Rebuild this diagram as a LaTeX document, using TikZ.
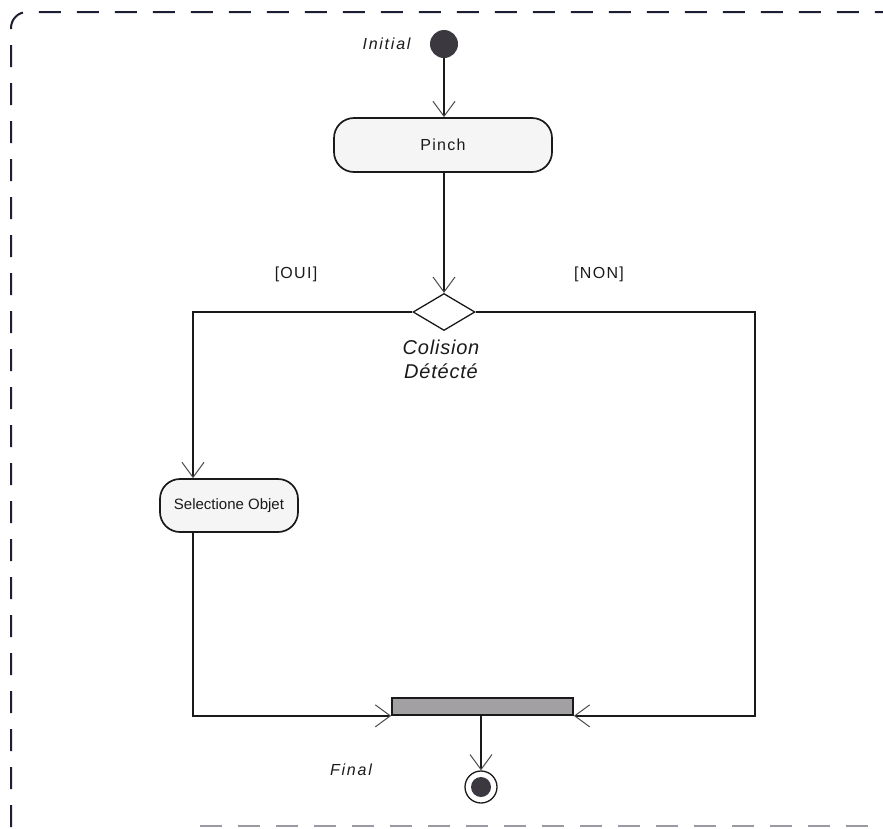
\documentclass[tikz,border=0pt]{standalone}
\usepackage{fontspec}
\setmainfont{Liberation Sans}
\usetikzlibrary{arrows.meta,shapes.geometric}

\definecolor{inkline}{HTML}{1A1A1A}
\definecolor{barbcol}{HTML}{4A4A4A}
\definecolor{dotfill}{HTML}{3B3840}
\definecolor{boxfill}{HTML}{F5F5F5}
\definecolor{barfill}{HTML}{A3A0A3}
\definecolor{framecol}{HTML}{1C1F33}

\tikzset{
  flow/.style={draw=inkline, line width=1.3pt,
    -{Straight Barb[length=15pt,width=22pt,line width=1pt,color=barbcol]}},
  action/.style={draw=inkline, line width=1.7pt, fill=boxfill,
    rounded corners=20pt, inner sep=0pt},
  decision/.style={diamond, draw=inkline, line width=1.3pt, fill=white,
    minimum width=62pt, minimum height=37pt, inner sep=0pt},
  startdot/.style={circle, fill=dotfill, minimum size=28pt, inner sep=0pt},
  enddot/.style={circle, draw=inkline, line width=1.3pt, fill=white,
    minimum size=32pt, inner sep=0pt,
    path picture={\fill[dotfill] (path picture bounding box.center) circle (10pt);}},
  syncbar/.style={draw=inkline, line width=1.7pt, fill=barfill, inner sep=0pt},
  caption/.style={text=inkline, font=\fontsize{16}{19}\selectfont\itshape\addfontfeatures{LetterSpace=11}},
  guard/.style={text=inkline, font=\fontsize{16}{19}\selectfont\addfontfeatures{LetterSpace=8}},
  frame/.style={draw=framecol, line width=2pt, dash pattern=on 22pt off 16pt, rounded corners=16pt},
}

\begin{document}
\begin{tikzpicture}[x=1pt, y=-1pt]
  \useasboundingbox (0,0) rectangle (883,828);

  % enclosing dashed frame
  \draw[frame] (11,827) -- (11,12) -- (905,12);
  \draw[framecol!45, line width=1.6pt, dash pattern=on 22pt off 16pt] (200,826) -- (905,826);

  % states and actions
  \node[startdot] (init) at (444,44) {};
  \node[caption, anchor=east] (initlbl) at (414,44) {Initial};

  \node[action, minimum width=218pt, minimum height=54pt,
        font=\fontsize{16}{19}\selectfont\addfontfeatures{LetterSpace=8}, text=inkline]
        (pinch) at (443,145) {Pinch};

  \node[decision] (dec) at (444,312) {};
  \node[caption, align=center, font=\fontsize{20}{24}\selectfont\itshape\addfontfeatures{LetterSpace=4}]
        (declbl) at (441,359) {Colision\\Détécté};

  \node[guard] (oui) at (296,274) {[OUI]};
  \node[guard] (non) at (599,274) {[NON]};

  \node[action, minimum width=138pt, minimum height=53pt,
        font=\fontsize{15}{18}\selectfont, text=inkline]
        (sel) at (229,505.5) {Selectione Objet};

  \node[syncbar, minimum width=181pt, minimum height=17pt] (bar) at (482.5,706.5) {};

  \node[enddot] (fin) at (481,787) {};
  \node[caption] (finlbl) at (351,770) {Final};

  % routing columns
  \coordinate (lx) at (193,0);
  \coordinate (rx) at (755,500);

  % flows
  \draw[flow] (init) -- (init |- pinch.north);
  \draw[flow] (pinch.south -| dec) -- (dec.north);
  \draw[flow] (dec.west) -| (sel.north -| lx);
  \draw[flow] (sel.south -| lx) |- (bar.south west);
  \draw[flow] (dec.east) -| (rx) |- (bar.south east);
  \draw[flow] (bar.south -| fin) -- (fin.north);
\end{tikzpicture}
\end{document}
